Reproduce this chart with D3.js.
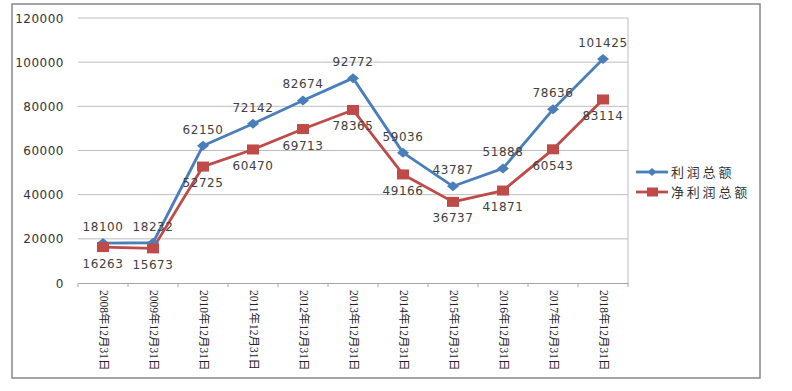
<!DOCTYPE html>
<html><head><meta charset="utf-8">
<script src="https://cdn.jsdelivr.net/npm/d3@7/dist/d3.min.js"></script>
<style>body{margin:0;background:#fff}svg{display:block}</style>
</head><body>
<svg id="c" width="792" height="391"></svg>
<script>
const categories = ["2008年12月31日","2009年12月31日","2010年12月31日","2011年12月31日","2012年12月31日","2013年12月31日","2014年12月31日","2015年12月31日","2016年12月31日","2017年12月31日","2018年12月31日"];
const profitTotal = [18100,18232,62150,72142,82674,92772,59036,43787,51888,78636,101425];
const netProfit = [16263,15673,52725,60470,69713,78365,49166,36737,41871,60543,83114];
const seriesNames = ["利润总额","净利润总额"];
const yTicks = [0,20000,40000,60000,80000,100000,120000];

const svg = d3.select("#c");
const L=78,R=628,T=18,B=283;
const x = d3.scaleBand().domain(categories).range([L,R]);
const y = d3.scaleLinear().domain([0,120000]).range([B,T]);
const cx = d => x(d)+x.bandwidth()/2;
const numFont = "DejaVu Sans, Verdana, sans-serif";

// outer border
svg.append("rect").attr("x",12).attr("y",4).attr("width",748).attr("height",374)
  .attr("fill","none").attr("stroke","#878787").attr("stroke-width",1.5);

// gridlines
svg.append("g").selectAll("line").data(yTicks.filter(t=>t>0)).join("line")
  .attr("x1",L).attr("x2",R).attr("y1",d=>y(d)).attr("y2",d=>y(d))
  .attr("stroke","#bdbdbd").attr("stroke-width",1);
// right plot border
svg.append("line").attr("x1",R).attr("x2",R).attr("y1",T).attr("y2",B).attr("stroke","#bdbdbd");

// y labels
svg.append("g").selectAll("text").data(yTicks).join("text")
  .attr("x",64).attr("y",d=>y(d)+4.5).attr("text-anchor","end")
  .attr("font-family",numFont).attr("font-size",12).attr("letter-spacing",0.5).attr("fill","#333")
  .text(d=>d);

// x axis
const xa = svg.append("g").attr("transform",`translate(0,${B})`)
  .call(d3.axisBottom(x).tickSize(0).tickFormat(""));
xa.select(".domain").attr("stroke","#a6a6a6");
svg.append("g").selectAll("line").data(d3.range(categories.length+1)).join("line")
  .attr("x1",i=>L+i*x.step()).attr("x2",i=>L+i*x.step()).attr("y1",B).attr("y2",B+4)
  .attr("stroke","#a6a6a6");
svg.append("g").selectAll("text").data(categories).join("text")
  .attr("transform",d=>`translate(${cx(d)},290) rotate(90)`)
  .attr("dominant-baseline","middle").attr("text-anchor","start")
  .attr("font-family","Liberation Serif, Noto Sans CJK SC, serif").attr("font-size",11.5).attr("fill","#222")
  .text(d=>d);

const blue="#4a7ebb", red="#be4b48";
const line = d3.line().x((d,i)=>cx(categories[i])).y(d=>y(d));
const diamond = (w,h)=>`M0,${-h/2}L${w/2},0L0,${h/2}L${-w/2},0Z`;

svg.append("path").datum(profitTotal).attr("d",line).attr("fill","none").attr("stroke",blue).attr("stroke-width",2.8).attr("stroke-linejoin","round");
svg.append("path").datum(netProfit).attr("d",line).attr("fill","none").attr("stroke",red).attr("stroke-width",2.8).attr("stroke-linejoin","round");

svg.append("g").selectAll("path").data(profitTotal).join("path")
  .attr("transform",(d,i)=>`translate(${cx(categories[i])},${y(d)})`).attr("d",diamond(12,10)).attr("fill",blue);
svg.append("g").selectAll("rect").data(netProfit).join("rect")
  .attr("x",(d,i)=>cx(categories[i])-6).attr("y",d=>y(d)-5).attr("width",12).attr("height",10).attr("fill",red);

// data labels
svg.append("g").selectAll("text").data(profitTotal).join("text")
  .attr("x",(d,i)=>cx(categories[i])).attr("y",d=>y(d)-12).attr("text-anchor","middle")
  .attr("font-family",numFont).attr("font-size",12).attr("letter-spacing",0.6).attr("fill","#404040").text(d=>d);
svg.append("g").selectAll("text").data(netProfit).join("text")
  .attr("x",(d,i)=>cx(categories[i])).attr("y",d=>y(d)+20.5).attr("text-anchor","middle")
  .attr("font-family",numFont).attr("font-size",12).attr("letter-spacing",0.6).attr("fill","#404040").text(d=>d);

// legend
const lg = svg.append("g");
[[blue,"d"],[red,"s"]].forEach(([c,m],i)=>{
  const yy = 172+i*20;
  lg.append("line").attr("x1",636).attr("x2",668).attr("y1",yy).attr("y2",yy).attr("stroke",c).attr("stroke-width",2.8);
  if(m==="d") lg.append("path").attr("transform",`translate(652,${yy})`).attr("d",diamond(9,8)).attr("fill",c);
  else lg.append("rect").attr("x",647).attr("y",yy-4.5).attr("width",11).attr("height",9).attr("fill",c);
  lg.append("text").attr("x",671).attr("y",yy+4.5).attr("font-family","Noto Sans CJK SC, sans-serif")
    .attr("font-size",13).attr("letter-spacing",2.8).attr("fill","#333").text(seriesNames[i]);
});
</script>
</body></html>
